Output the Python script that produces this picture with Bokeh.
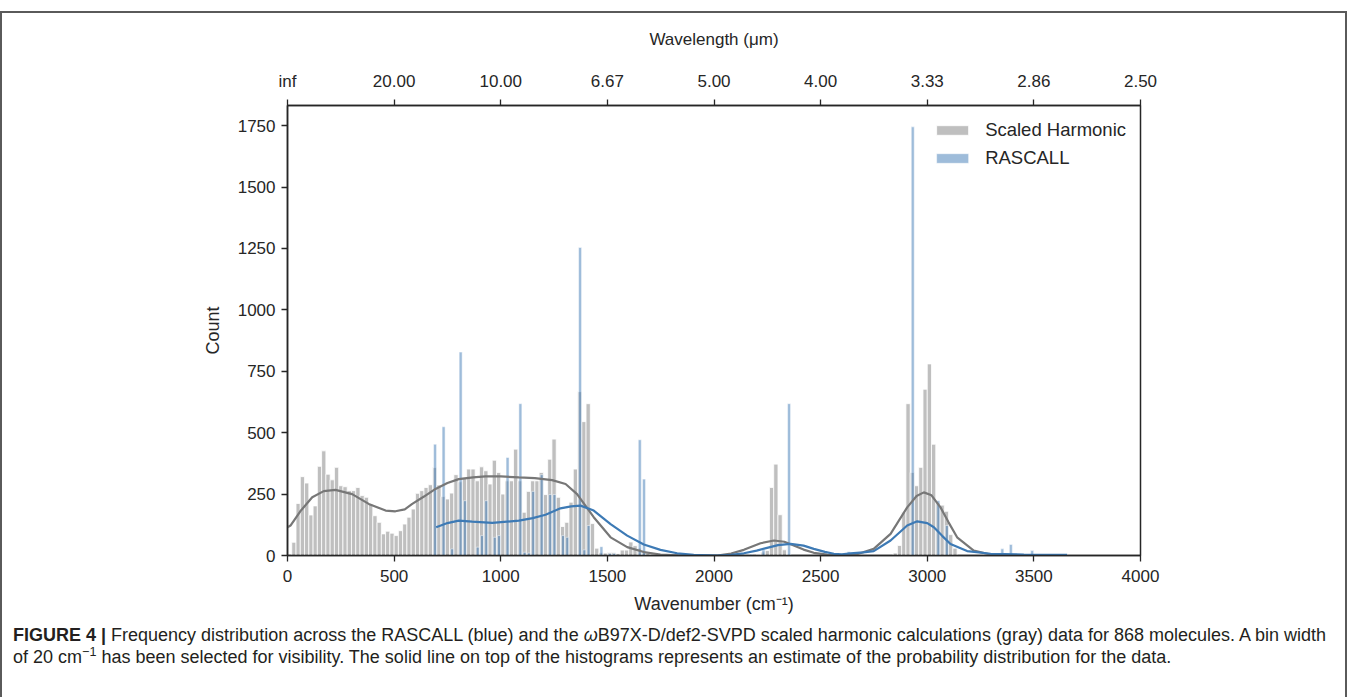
import numpy as np
from bokeh.plotting import figure
from bokeh.layouts import column
from bokeh.models import (LinearAxis, FixedTicker, Legend, LegendItem, ColumnDataSource,
                          Range1d, Div)
from bokeh.embed import file_html
from bokeh.resources import INLINE

# ---------------- data ----------------
BIN_WIDTH = 20
gray_bin_left = [20, 40, 60, 80, 100, 120, 140, 160, 180, 200, 220, 240, 260, 280, 300, 320,
                 340, 360, 380, 400, 420, 440, 460, 480, 500, 520, 540, 560, 580, 600, 620, 640,
                 660, 680, 700, 720, 740, 760, 780, 800, 820, 840, 860, 880, 900, 920, 940, 960,
                 980, 1000, 1020, 1040, 1060, 1080, 1100, 1120, 1140, 1160, 1180, 1200, 1220,
                 1240, 1260, 1280, 1300, 1320, 1340, 1360, 1380, 1400, 1420, 1440, 1460, 1480,
                 1500, 1520, 1540, 1560, 1580, 1600, 1620, 1640, 1660, 1680,
                 2200, 2220, 2240, 2260, 2280, 2300, 2320, 2340,
                 2840, 2860, 2880, 2900, 2920, 2940, 2960, 2980, 3000, 3020, 3040, 3060, 3080,
                 3100, 3120]
gray_counts = [54, 212, 321, 295, 165, 202, 363, 426, 331, 308, 359, 284, 280, 264, 264, 277,
               244, 237, 210, 162, 135, 88, 99, 91, 81, 101, 128, 156, 189, 253, 264, 277,
               288, 358, 287, 240, 230, 254, 329, 300, 318, 352, 352, 304, 361, 345, 291, 388,
               338, 250, 304, 304, 433, 304, 176, 261, 304, 304, 338, 248, 392,
               474, 237, 118, 135, 217, 352, 667, 545, 618, 130, 30, 12, 10,
               12, 12, 8, 22, 22, 55, 40, 30, 20, 10,
               5, 14, 20, 277, 372, 166, 23, 5,
               10, 41, 176, 618, 338, 284, 359, 677, 780, 453, 215, 205, 180,
               85, 30]

blue_centers = [692, 732, 772, 812, 832, 892, 912, 932, 972, 992, 1032, 1092, 1112, 1132,
                1152, 1192, 1232, 1252, 1292, 1312, 1372, 1392, 1412, 1472, 1512, 1532,
                1652, 1672, 2172, 2232, 2352, 2632, 2932, 3052, 3092, 3312, 3352, 3372,
                3392, 3432, 3492, 3552, 3612, 3652]
blue_counts = [453, 524, 27, 828, 223, 34, 81, 223, 74, 81, 399, 618, 13, 10,
               261, 329, 248, 248, 81, 74, 1254, 23, 122, 36, 8, 8,
               471, 311, 5, 23, 618, 15, 1745, 223, 122, 6, 27, 8,
               45, 6, 20, 5, 4, 4]

gray_kde_x = [0, 14, 60, 116, 170, 225, 303, 381, 460, 506, 550, 585, 640, 694, 750, 803,
              870, 928, 1000, 1085, 1160, 1241, 1304, 1358, 1436, 1515, 1593, 1671, 1749,
              1830, 1905, 2015, 2080, 2140, 2218, 2281, 2330, 2374, 2420, 2468, 2530, 2593,
              2670, 2749, 2828, 2906, 2950, 2984, 3020, 3062, 3100, 3140, 3218, 3297]
gray_kde_y = [115, 122, 180, 237, 262, 267, 250, 210, 183, 180, 188, 210, 240, 271, 295, 311,
              318, 322, 322, 318, 315, 307, 291, 250, 156, 74, 34, 14, 4,
              1, 0, 0, 8, 23, 50, 61, 56, 41, 24, 11, 4, 2,
              5, 27, 88, 196, 242, 257, 245, 196, 135, 74, 20, 4]

blue_kde_x = [697, 750, 803, 866, 960, 1085, 1150, 1210, 1280, 1330, 1374, 1436, 1515, 1593,
              1671, 1749, 1827, 1905, 2015, 2080, 2140, 2200, 2249, 2300, 2359, 2420, 2468,
              2520, 2562, 2600, 2640, 2700, 2749, 2828, 2906, 2953, 3000, 3031, 3070, 3109,
              3187, 3297, 3453, 3656]
blue_kde_y = [115, 132, 142, 138, 133, 142, 152, 166, 192, 200, 203, 183, 128, 81,
              45, 23, 9, 3, 0, 3, 9, 20, 31, 42, 47, 40, 27,
              15, 7, 5, 9, 13, 18, 61, 122, 139, 132, 115, 80, 47,
              18, 7, 4, 3]

x_ticks = [0, 500, 1000, 1500, 2000, 2500, 3000, 3500, 4000]
wavelength_labels = ["inf", "20.00", "10.00", "6.67", "5.00", "4.00", "3.33", "2.86", "2.50"]
y_ticks = [0, 250, 500, 750, 1000, 1250, 1500, 1750]

caption_bold = "FIGURE 4 |"
caption_line1 = ("Frequency distribution across the RASCALL (blue) and the <i>\u03c9</i>B97X-D/def2-SVPD "
                 "scaled harmonic calculations (gray) data for 868 molecules. A bin width")
caption_line2 = ("of 20 cm<sup style=\"font-size:70%;line-height:0\">\u22121</sup> has been selected for "
                 "visibility. The solid line on top of the histograms represents an estimate of the "
                 "probability distribution for the data.")

# ---------------- styling ----------------
FONT = "Liberation Sans"
INK = "#262626"
GRAY = "#808080"
BLUE = "#3d7ab5"

W, H = 1347, 697
BORDER = 2          # outer frame line thickness (px)
TOP_GAP = 11        # white space above outer frame
PW = W - 2 * BORDER
# frame edges inside the figure canvas (page px minus border / gap offset)
FL, FR = 287 - BORDER, 1140 - BORDER
FT, FB = 105 - TOP_GAP - BORDER, 555 - TOP_GAP - BORDER
BOTTOM_SPACE = 66   # room under the frame for the wavenumber axis
PH = FB + BOTTOM_SPACE
CAP_H = H - TOP_GAP - BORDER - PH

p = figure(width=PW, height=PH, output_backend="svg", toolbar_location=None,
           x_range=Range1d(0, 4000), y_range=Range1d(0, 1832),
           min_border_left=FL, min_border_right=PW - FR,
           min_border_top=FT, min_border_bottom=BOTTOM_SPACE)
p.background_fill_color = "white"
p.border_fill_color = "white"
p.xgrid.visible = False
p.ygrid.visible = False
p.outline_line_color = INK
p.outline_line_width = 1.5
p.outline_line_alpha = 1

gray_src = ColumnDataSource(dict(x=[l + BIN_WIDTH / 2 for l in gray_bin_left], top=gray_counts))
blue_src = ColumnDataSource(dict(x=blue_centers, top=blue_counts))

r_gray = p.vbar(x="x", top="top", bottom=0, width=BIN_WIDTH, source=gray_src,
                fill_color=GRAY, fill_alpha=0.5, line_color="white", line_width=0.8)
r_blue = p.vbar(x="x", top="top", bottom=0, width=14, source=blue_src,
                fill_color=BLUE, fill_alpha=0.5, line_color="white", line_width=0.5)
p.line(gray_kde_x, gray_kde_y, line_color="#777777", line_width=2.2)
p.line(blue_kde_x, blue_kde_y, line_color=BLUE, line_width=2.2)


def style_axis(ax, label_size="18px"):
    ax.axis_line_color = INK
    ax.axis_line_width = 1.5
    ax.major_tick_line_color = INK
    ax.major_tick_line_width = 1.3
    ax.major_tick_out = 6
    ax.major_tick_in = 0
    ax.minor_tick_line_color = None
    ax.major_label_text_font = FONT
    ax.major_label_text_font_size = "17px"
    ax.major_label_text_color = INK
    ax.axis_label_text_font = FONT
    ax.axis_label_text_font_size = label_size
    ax.axis_label_text_font_style = "normal"
    ax.axis_label_text_color = INK


xax = p.xaxis[0]
xax.ticker = FixedTicker(ticks=x_ticks)
xax.axis_label = "Wavenumber (cm\u207b\u00b9)"
style_axis(xax)
xax.major_label_standoff = 8
xax.axis_label_standoff = 9

yax = p.yaxis[0]
yax.ticker = FixedTicker(ticks=y_ticks)
yax.axis_label = "Count"
style_axis(yax)
yax.major_label_standoff = 6
yax.axis_label_standoff = 12

top_ax = LinearAxis(ticker=FixedTicker(ticks=x_ticks),
                    major_label_overrides={t: s for t, s in zip(x_ticks, wavelength_labels)},
                    axis_label="Wavelength (\u03bcm)")
style_axis(top_ax, "17px")
top_ax.major_label_standoff = 9
top_ax.axis_label_standoff = 20
p.add_layout(top_ax, "above")

legend = Legend(items=[LegendItem(label="Scaled Harmonic", renderers=[r_gray]),
                       LegendItem(label="RASCALL", renderers=[r_blue])],
                location="top_right")
legend.label_text_font = FONT
legend.label_text_font_size = "18.5px"
legend.label_text_color = INK
legend.glyph_width = 40
legend.glyph_height = 12
legend.label_standoff = 13
legend.label_height = 20
legend.spacing = 6
legend.padding = 6
legend.margin = 8
legend.background_fill_alpha = 0
legend.border_line_alpha = 0
p.add_layout(legend, "center")

# caption under the chart: first line centred near y=635 on the page
cap_top = TOP_GAP + BORDER + PH
pad_top = max(0, 635 - cap_top - 11)
cap_html = (
    '<div style="font-family:\'Liberation Sans\',Arial,sans-serif;font-size:18px;'
    f'line-height:22px;color:#231f20;white-space:nowrap;padding:{pad_top}px 0 0 11px;">'
    f'<b>{caption_bold}</b> {caption_line1}<br>{caption_line2}</div>'
)
cap = Div(text=cap_html, width=PW, height=CAP_H, margin=0)

border_css = f"{BORDER}px solid #5a5a5a"
layout = column(p, cap, width=W, height=H - TOP_GAP, margin=(TOP_GAP, 0, 0, 0),
                styles={"border-top": border_css, "border-left": border_css,
                        "border-right": border_css, "border-bottom": "none",
                        "background": "white", "box-sizing": "border-box"})

open("out.html", "w").write(file_html(layout, INLINE))
